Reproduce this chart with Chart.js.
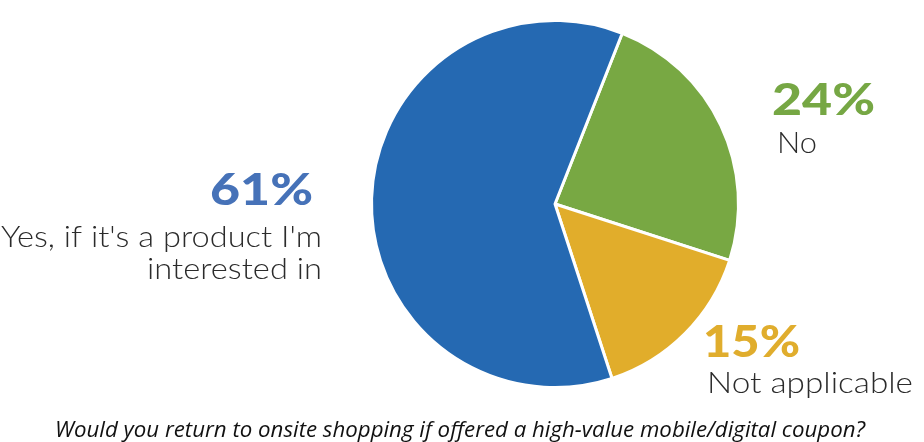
<!DOCTYPE html>
<html>
<head>
<meta charset="utf-8">
<script src="https://cdn.jsdelivr.net/npm/chart.js@4/dist/chart.umd.min.js"></script>
<style>
  html, body { margin: 0; padding: 0; background: #fff; }
  #wrap { width: 924px; height: 442px; }
</style>
</head>
<body>
<div id="wrap"><canvas id="pie-chart" width="924" height="442"></canvas></div>
<script>
// data
var answers = ["No", "Not applicable", "Yes, if it's a product I'm interested in"];
var shares = [24, 15, 61];
var sliceColors = ["#78a843", "#e1ad2b", "#2569b2"];
var textColors = ["#76a744", "#e0ad2d", "#4672b8"];
var caption = "Would you return to onsite shopping if offered a high-value mobile/digital coupon?";

// label blocks: anchor x, baseline of percentage, widths seen in the picture
var labelPos = [
  { x: 772, y: 115, align: "left", pctW: 103, lines: ["No"], lineY: [153], lineW: [40], lineX: [777] },
  { x: 703, y: 357, align: "left", pctW: 97, lines: ["Not applicable"], lineY: [393], lineW: [206], lineX: [707] },
  { x: 313, y: 205, align: "right", pctW: 103, lines: ["Yes, if it's a product I'm", "interested in"], lineY: [247, 279], lineW: [321, 175], lineX: [322, 322] }
];

var ctx = document.getElementById("pie-chart");

// draw text squeezed/stretched to a given width
function fitText(c, txt, x, y, w, align) {
  var m = c.measureText(txt).width;
  var left = align == "right" ? x - w : (align == "center" ? x - w / 2 : x);
  c.save();
  c.textAlign = "left";
  c.translate(left, y);
  c.scale(w / m, 1);
  c.fillText(txt, 0, 0);
  c.restore();
}

var pieLabels = {
  id: "pieLabels",
  afterDraw: function (chart) {
    var c = chart.ctx;
    c.save();
    c.textBaseline = "alphabetic";
    for (var i = 0; i < shares.length; i++) {
      var p = labelPos[i];
      c.font = "900 43px Lato, 'Open Sans', sans-serif";
      c.fillStyle = textColors[i];
      fitText(c, shares[i] + "%", p.x, p.y, p.pctW, p.align);
      c.font = "300 29px Lato, 'Open Sans', sans-serif";
      c.fillStyle = "#2b2b2b";
      for (var j = 0; j < p.lines.length; j++) {
        fitText(c, p.lines[j], p.lineX[j], p.lineY[j], p.lineW[j], p.align);
      }
    }
    c.font = "italic 22px 'Open Sans', 'Noto Sans', sans-serif";
    c.fillStyle = "#111";
    fitText(c, caption, 460, 437, 810, "center");
    c.restore();
  }
};

var pie = new Chart(ctx, {
  type: "pie",
  data: {
    labels: answers,
    datasets: [{
      data: shares,
      backgroundColor: sliceColors,
      borderColor: "#ffffff",
      borderWidth: 3
    }]
  },
  options: {
    responsive: false,
    animation: false,
    rotation: 21.5,
    layout: { padding: { left: 370, right: 184, top: 19, bottom: 53 } },
    plugins: {
      legend: { display: false },
      tooltip: { enabled: false },
      title: { display: false }
    }
  },
  plugins: [pieLabels]
});
</script>
</body>
</html>
